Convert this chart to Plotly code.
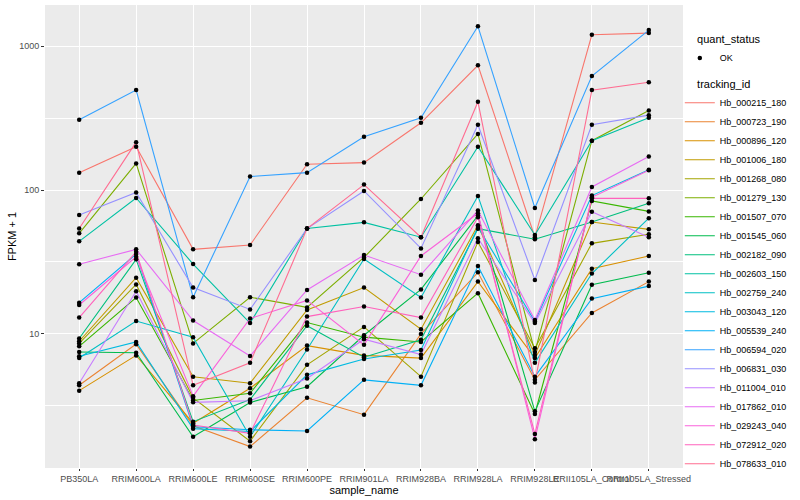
import plotly.graph_objects as go

samples = ["PB350LA", "RRIM600LA", "RRIM600LE", "RRIM600SE", "RRIM600PE", "RRIM901LA",
           "RRIM928BA", "RRIM928LA", "RRIM928LE", "RRII105LA_Control", "RRII105LA_Stressed"]

hb_000215_180 = [132, 200, 38.7, 41.5, 151, 155, 293, 735, 47, 1198, 1230]
hb_000723_190 = [4.4, 8.5, 2.3, 1.65, 3.6, 2.75, 10, 26.8, 4.8, 14, 23.1]
hb_000896_120 = [4.04, 7.1, 2.4, 4.2, 8.3, 7.1, 6.8, 23.1, 6.8, 28.4, 34.8]
hb_001006_180 = [8.9, 24.6, 5.05, 4.55, 14.7, 21, 10.8, 56.8, 7.15, 59.9, 53.3]
hb_001268_080 = [8.6, 22.1, 3.6, 1.8, 6.1, 11.2, 5.05, 43.6, 7.95, 42.6, 49.3]
hb_001279_130 = [50, 153, 8.6, 18, 15.3, 34, 86.6, 245, 7.5, 220, 357]
hb_001507_070 = [8.2, 17.9, 3.45, 3.87, 12, 9.5, 8.8, 19.2, 2.78, 84, 71]
hb_001545_060 = [7.5, 7.4, 1.93, 3.34, 4.3, 9.8, 20.4, 66.4, 2.9, 22, 26.6]
hb_002182_090 = [9.3, 33, 2.46, 3.5, 11.4, 6.9, 9.1, 53.9, 45.5, 60, 81]
hb_002603_150 = [44, 88, 30.6, 11.9, 54, 59.6, 47, 200, 48.7, 220, 318]
hb_002759_240 = [6.8, 12.3, 9.5, 1.93, 7.8, 33.2, 17.9, 91, 6.3, 26.3, 63.7]
hb_003043_120 = [7.0, 8.8, 2.2, 2.1, 5.2, 6.7, 7.74, 55.3, 12.2, 91.5, 138]
hb_005539_240 = [16.5, 35.9, 2.27, 2.16, 2.12, 4.8, 4.4, 29.6, 5.05, 17.6, 21.5]
hb_006594_020 = [308, 495, 18, 124, 132, 234, 318, 1371, 75, 619, 1291]
hb_006831_030 = [67, 96, 21, 14.8, 54, 98.5, 39.3, 284, 23.7, 284, 331]
hb_011004_010 = [4.55, 19.8, 3.35, 3.44, 4.9, 9.2, 7.2, 46.2, 11.9, 70.7, 47]
hb_017862_010 = [30.5, 38.7, 12.4, 7.04, 20.2, 35.3, 25.8, 72, 12.5, 105, 171]
hb_029243_040 = [15.9, 34.4, 3.7, 12.8, 17.1, 8.4, 34.8, 69, 1.86, 89, 137]
hb_072912_020 = [13, 37.2, 2.33, 2.04, 13.2, 15.5, 13, 64.6, 2.02, 87.5, 87.5]
hb_078633_010 = [54, 215, 4.4, 6.3, 54, 109, 47, 410, 4.6, 494, 560]

tracking_ids = ["Hb_000215_180", "Hb_000723_190", "Hb_000896_120", "Hb_001006_180",
                "Hb_001268_080", "Hb_001279_130", "Hb_001507_070", "Hb_001545_060",
                "Hb_002182_090", "Hb_002603_150", "Hb_002759_240", "Hb_003043_120",
                "Hb_005539_240", "Hb_006594_020", "Hb_006831_030", "Hb_011004_010",
                "Hb_017862_010", "Hb_029243_040", "Hb_072912_020", "Hb_078633_010"]

series = [hb_000215_180, hb_000723_190, hb_000896_120, hb_001006_180, hb_001268_080,
          hb_001279_130, hb_001507_070, hb_001545_060, hb_002182_090, hb_002603_150,
          hb_002759_240, hb_003043_120, hb_005539_240, hb_006594_020, hb_006831_030,
          hb_011004_010, hb_017862_010, hb_029243_040, hb_072912_020, hb_078633_010]

colors = ["#F8766D", "#EA8331", "#D89000", "#C09B00", "#A3A500", "#7CAE00", "#39B600",
          "#00BB4E", "#00BF7D", "#00C1A3", "#00BFC4", "#00BAE0", "#00B0F6", "#35A2FF",
          "#9590FF", "#C77CFF", "#E76BF3", "#FA62DB", "#FF62BC", "#FF6C91"]

FONT = "Liberation Sans, Arial, sans-serif"
PAD = "\u00a0" * 5

fig = go.Figure()
for name, vals, col in zip(tracking_ids, series, colors):
    fig.add_trace(go.Scatter(x=samples, y=vals, mode="lines", name=name,
                             line=dict(color=col, width=1.1), legend="legend2",
                             hoverinfo="skip"))

all_x = [s for vals in series for s in samples]
all_y = [v for vals in series for v in vals]
fig.add_trace(go.Scatter(x=all_x, y=all_y, mode="markers", name="OK",
                         marker=dict(color="black", size=4.5, symbol="circle"),
                         legend="legend"))

fig.update_layout(
    width=800, height=500,
    margin=dict(l=45, r=117, t=5, b=32, autoexpand=False),
    paper_bgcolor="white", plot_bgcolor="#EBEBEB",
    font=dict(family=FONT, size=9, color="#4D4D4D"),
    showlegend=True,
    legend=dict(title=dict(text=PAD + "quant_status", font=dict(size=11, color="black")),
                x=0.995, xanchor="left", y=0.948, yanchor="top",
                font=dict(size=9, color="black"), bgcolor="rgba(0,0,0,0)",
                itemwidth=30),
    legend2=dict(title=dict(text=PAD + "tracking_id", font=dict(size=11, color="black")),
                 x=0.995, xanchor="left", y=0.851, yanchor="top",
                 font=dict(size=9, color="black"), bgcolor="rgba(0,0,0,0)",
                 tracegroupgap=0, itemwidth=30),
)

fig.update_xaxes(type="category", categoryorder="array", categoryarray=samples,
                 range=[-0.6, 10.6], showgrid=True, gridcolor="white", gridwidth=1.1,
                 ticks="outside", ticklen=2, tickcolor="#333333", tickangle=0,
                 tickfont=dict(size=9, color="#4D4D4D"), zeroline=False, showline=False,
                 automargin=False,
                 title=dict(text="sample_name", font=dict(size=11, color="black"), standoff=0))

fig.update_yaxes(type="log", range=[0.069, 3.285],
                 tickmode="array", tickvals=[10, 100, 1000], ticktext=["10", "100", "1000"],
                 showgrid=True, gridcolor="white", gridwidth=1.1,
                 minor=dict(tickmode="array", tickvals=[3.1623, 31.623, 316.23],
                            showgrid=True, gridcolor="white", gridwidth=0.5, ticklen=0),
                 ticks="outside", ticklen=3, tickcolor="#333333",
                 tickfont=dict(size=9, color="#4D4D4D"), zeroline=False, showline=False,
                 automargin=False,
                 title=dict(text="FPKM + 1", font=dict(size=11, color="black"), standoff=0))

fig.write_html("out.html", config={"displayModeBar": False},
               post_script="document.body.style.margin='0px';")
